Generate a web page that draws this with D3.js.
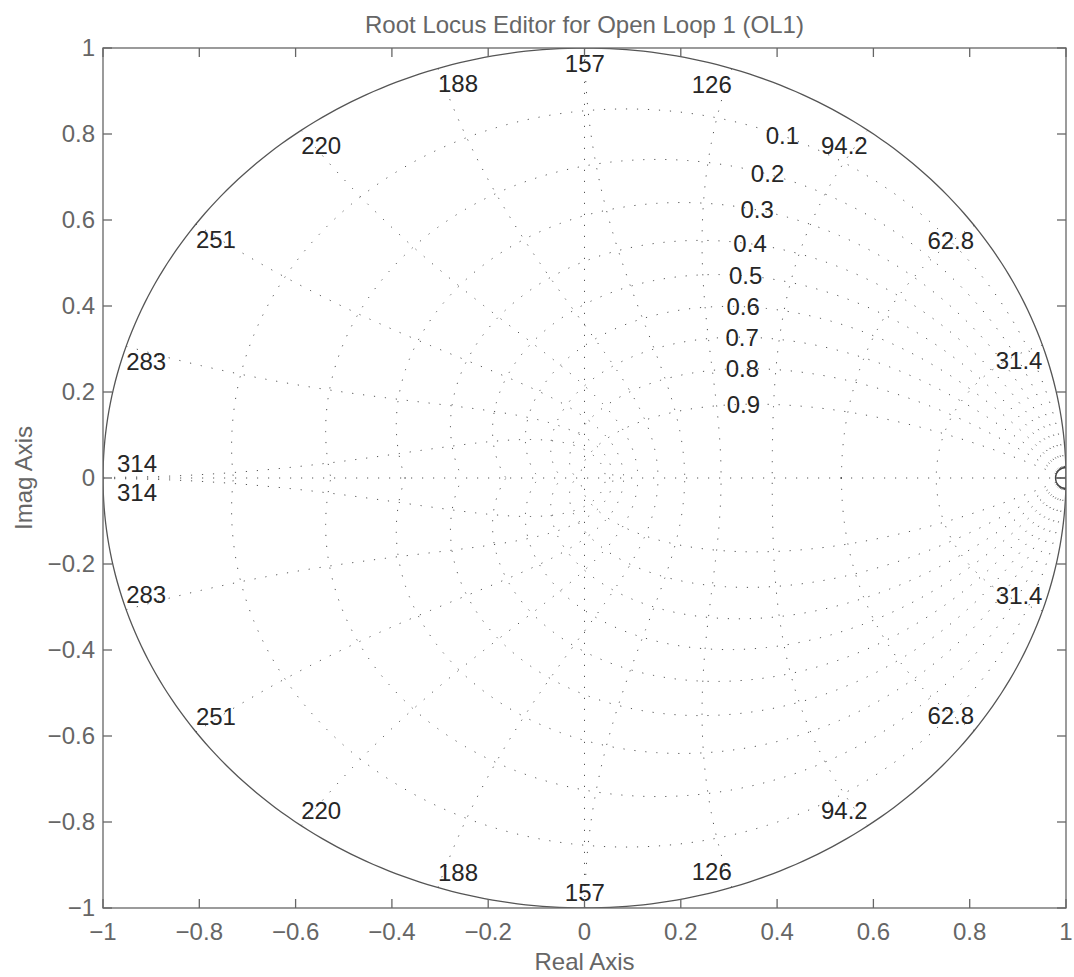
<!DOCTYPE html>
<html>
<head>
<meta charset="utf-8">
<script src="https://cdn.jsdelivr.net/npm/d3@7"></script>
<style>
  body { margin: 0; background: #fff; }
  text { font-family: "Liberation Sans", Arial, Helvetica, sans-serif; }
</style>
</head>
<body>
<div id="rlocus"></div>
<script>

// chart data
var sampleTime = 0.01;
var zetaValues = [0.1, 0.2, 0.3, 0.4, 0.5, 0.6, 0.7, 0.8, 0.9];
var wnValues = [31.4, 62.8, 94.2, 126, 157, 188, 220, 251, 283, 314];   // rad/s
var wnLabels = ["31.4", "62.8", "94.2", "126", "157", "188", "220", "251", "283", "314"];
var xTicks = [-1, -0.8, -0.6, -0.4, -0.2, 0, 0.2, 0.4, 0.6, 0.8, 1];
var yTicks = [-1, -0.8, -0.6, -0.4, -0.2, 0, 0.2, 0.4, 0.6, 0.8, 1];
var zetaLabelWn = 0.35 * Math.PI;   // normalised wn where zeta labels sit
var zeroMarkers = [[1, 0]];

// set the dimensions and margins of the graph
var margin = {top: 48, right: 8, bottom: 69, left: 103},
    width = 1074 - margin.left - margin.right,
    height = 977 - margin.top - margin.bottom;

var svg = d3.select("#rlocus")
  .append("svg")
    .attr("width", 1074)
    .attr("height", 977);

var g = svg.append("g")
    .attr("transform", "translate(" + margin.left + "," + margin.top + ")");

var x = d3.scaleLinear().domain([-1, 1]).range([0, width]);
var y = d3.scaleLinear().domain([-1, 1]).range([height, 0]);

var fmt = function(d) {
  if (d === 0) return "0";
  return (d < 0 ? "\u2212" : "") + Math.abs(d);
};

var line = d3.line()
  .x(function(d) { return x(d[0]); })
  .y(function(d) { return y(d[1]); })
  .curve(d3.curveLinear);

var gridStyle = function(sel) {
  sel.attr("fill", "none")
    .attr("stroke", "#555")
    .attr("stroke-width", 1)
    .attr("stroke-dasharray", "1.2 9.8");
};

// clip to axes
svg.append("defs").append("clipPath").attr("id", "plotclip")
  .append("rect").attr("width", width).attr("height", height);

var plot = g.append("g").attr("clip-path", "url(#plotclip)");

// axis lines through origin
plot.append("path").datum([[-1, 0], [1, 0]]).attr("d", line).call(gridStyle);
plot.append("path").datum([[0, -1], [0, 1]]).attr("d", line).call(gridStyle);

// damping ratio curves
zetaValues.forEach(function(zeta) {
  var m = Math.tan(Math.asin(zeta));
  var up = [], dn = [];
  for (var i = 0; i <= 300; i++) {
    var th = Math.PI * i / 300;
    var r = Math.exp(-m * th);
    up.push([r * Math.cos(th), r * Math.sin(th)]);
    dn.push([r * Math.cos(th), -r * Math.sin(th)]);
  }
  plot.append("path").datum(up).attr("d", line).call(gridStyle);
  plot.append("path").datum(dn).attr("d", line).call(gridStyle);
});

// natural frequency curves
wnValues.forEach(function(w) {
  var wn = w * sampleTime;
  var up = [], dn = [];
  for (var i = 0; i <= 200; i++) {
    var phi = Math.PI / 2 + (Math.PI / 2) * i / 200;
    var re = wn * Math.cos(phi), im = wn * Math.sin(phi);
    var r = Math.exp(re);
    up.push([r * Math.cos(im), r * Math.sin(im)]);
    dn.push([r * Math.cos(im), -r * Math.sin(im)]);
  }
  plot.append("path").datum(up).attr("d", line).call(gridStyle);
  plot.append("path").datum(dn).attr("d", line).call(gridStyle);
});

// unit circle
var circ = d3.range(0, 361).map(function(a) {
  var t = a * Math.PI / 180;
  return [Math.cos(t), Math.sin(t)];
});
plot.append("path").datum(circ).attr("d", line)
  .attr("fill", "none").attr("stroke", "#555").attr("stroke-width", 1.3);

// zero marker at z = 1
zeroMarkers.forEach(function(p) {
  plot.append("circle")
    .attr("cx", x(p[0])).attr("cy", y(p[1])).attr("r", 10.5)
    .attr("fill", "none").attr("stroke", "#444").attr("stroke-width", 1.3);
  plot.append("line")
    .attr("x1", x(p[0]) - 10.5).attr("x2", x(p[0]))
    .attr("y1", y(p[1])).attr("y2", y(p[1]))
    .attr("stroke", "#444").attr("stroke-width", 1.3);
});

// zeta labels
zetaValues.forEach(function(zeta) {
  var re = -zeta * zetaLabelWn, im = zetaLabelWn * Math.sqrt(1 - zeta * zeta);
  var r = Math.exp(re);
  g.append("text")
    .attr("x", x(r * Math.cos(im)))
    .attr("y", y(r * Math.sin(im)))
    .attr("dy", "0.35em")
    .attr("text-anchor", "middle")
    .attr("font-size", 24)
    .attr("fill", "#262626")
    .text(zeta);
});

// wn labels, upper and lower
wnValues.forEach(function(w, i) {
  var wn = w * sampleTime;
  var px = Math.cos(wn), py = Math.sin(wn);
  var anchor = Math.abs(px) < 0.02 ? "middle" : (px > 0 ? "end" : "start");
  var nudge = (px < -0.99) ? 14 : 0;
  [1, -1].forEach(function(s) {
    g.append("text")
      .attr("x", x(px) + nudge)
      .attr("y", y(s * py) + s * 15.5)
      .attr("dy", "0.35em")
      .attr("text-anchor", anchor)
      .attr("font-size", 24)
      .attr("fill", "#262626")
      .text(wnLabels[i]);
  });
});

// axes box and ticks
var axisColor = "#666";
g.append("rect")
  .attr("width", width).attr("height", height)
  .attr("fill", "none").attr("stroke", axisColor).attr("stroke-width", 1.3);

xTicks.forEach(function(t) {
  g.append("line").attr("x1", x(t)).attr("x2", x(t)).attr("y1", height).attr("y2", height - 9)
    .attr("stroke", axisColor).attr("stroke-width", 1.3);
  g.append("line").attr("x1", x(t)).attr("x2", x(t)).attr("y1", 0).attr("y2", 9)
    .attr("stroke", axisColor).attr("stroke-width", 1.3);
  g.append("text")
    .attr("x", x(t)).attr("y", height + 32)
    .attr("text-anchor", "middle")
    .attr("font-size", 24)
    .attr("fill", axisColor)
    .text(fmt(t));
});

yTicks.forEach(function(t) {
  g.append("line").attr("x1", 0).attr("x2", 9).attr("y1", y(t)).attr("y2", y(t))
    .attr("stroke", axisColor).attr("stroke-width", 1.3);
  g.append("line").attr("x1", width).attr("x2", width - 9).attr("y1", y(t)).attr("y2", y(t))
    .attr("stroke", axisColor).attr("stroke-width", 1.3);
  g.append("text")
    .attr("x", -8).attr("y", y(t))
    .attr("dy", "0.35em")
    .attr("text-anchor", "end")
    .attr("font-size", 24)
    .attr("fill", axisColor)
    .text(fmt(t));
});

// titles
svg.append("text")
  .attr("x", margin.left + width / 2).attr("y", 33)
  .attr("text-anchor", "middle")
  .attr("font-size", 24)
  .attr("fill", axisColor)
  .text("Root Locus Editor for Open Loop 1 (OL1)");

svg.append("text")
  .attr("x", margin.left + width / 2).attr("y", 970)
  .attr("text-anchor", "middle")
  .attr("font-size", 24)
  .attr("fill", axisColor)
  .text("Real Axis");

svg.append("text")
  .attr("transform", "translate(32," + (margin.top + height / 2) + ") rotate(-90)")
  .attr("text-anchor", "middle")
  .attr("font-size", 24)
  .attr("fill", axisColor)
  .text("Imag Axis");

</script>
</body>
</html>
